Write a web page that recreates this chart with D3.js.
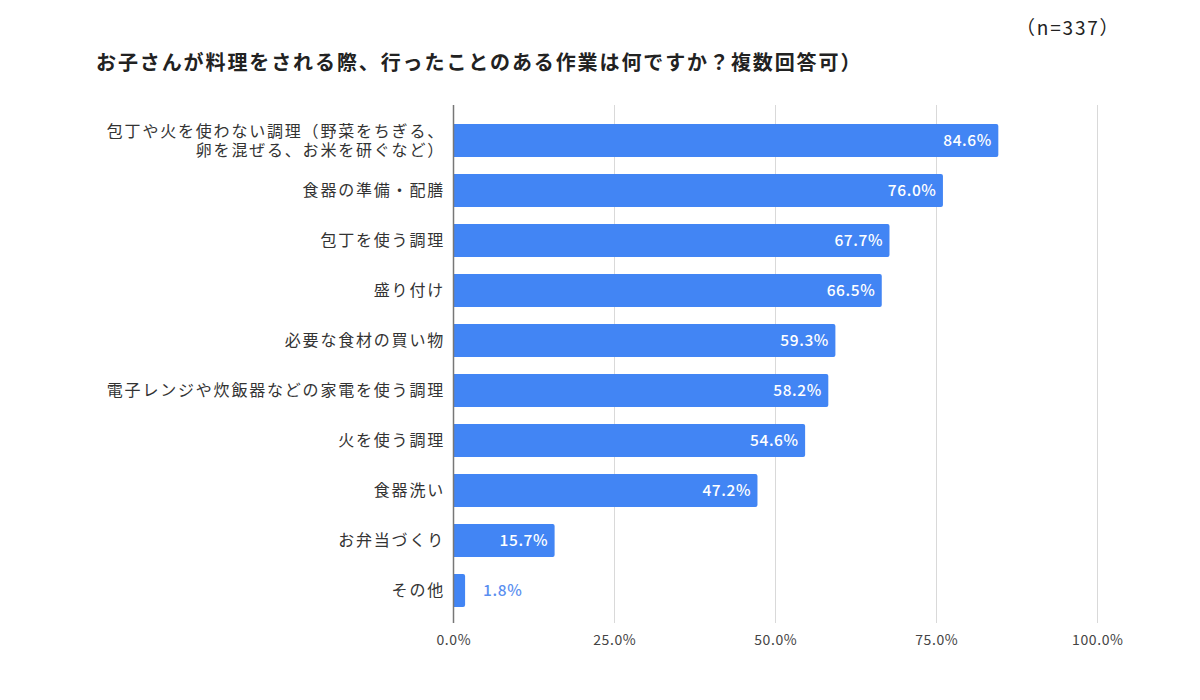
<!DOCTYPE html>
<html>
<head>
<meta charset="utf-8">
<script src="https://cdn.jsdelivr.net/npm/d3@7"></script>
<style>
  body { margin: 0; background: #fff; }
  text { font-family: "Noto Sans CJK JP", "Noto Sans", sans-serif; }
</style>
</head>
<body>
<div class="container"></div>
<script>
// data
var categories = [
  ["包丁や火を使わない調理（野菜をちぎる、", "卵を混ぜる、お米を研ぐなど）"],
  ["食器の準備・配膳"],
  ["包丁を使う調理"],
  ["盛り付け"],
  ["必要な食材の買い物"],
  ["電子レンジや炊飯器などの家電を使う調理"],
  ["火を使う調理"],
  ["食器洗い"],
  ["お弁当づくり"],
  ["その他"]
];
var values = [84.6, 76.0, 67.7, 66.5, 59.3, 58.2, 54.6, 47.2, 15.7, 1.8];
var ticks = [0, 25, 50, 75, 100];
var title = "お子さんが料理をされる際、行ったことのある作業は何ですか？複数回答可）";
var note = "（n=337）";

var width = 1200, height = 700;
var barColor = "#4285f4";

var svg = d3.select(".container").append("svg")
  .attr("width", width)
  .attr("height", height);

var x = d3.scaleLinear().domain([0, 100]).range([453.5, 1097.5]);
var y = d3.scaleBand()
  .domain(d3.range(categories.length))
  .range([115.5, 615.5])
  .paddingInner(0.34)
  .paddingOuter(0.17);

// title + n
svg.append("text")
  .attr("x", 96).attr("y", 70)
  .attr("font-size", 20).attr("font-weight", "bold").attr("fill", "#222")
  .attr("letter-spacing", 1.9)
  .text(title);
svg.append("text")
  .attr("x", 1016).attr("y", 35)
  .attr("font-size", 19).attr("fill", "#222")
  .attr("letter-spacing", 1.8)
  .text(note);

// grid
svg.selectAll(".grid")
  .data(ticks.slice(1)).enter()
  .append("line")
  .attr("x1", function(d) { return x(d); })
  .attr("x2", function(d) { return x(d); })
  .attr("y1", 105).attr("y2", 623)
  .attr("stroke", "#d9d9d9").attr("stroke-width", 1);

// x tick labels
svg.selectAll(".tick-label")
  .data(ticks).enter()
  .append("text")
  .attr("x", function(d) { return x(d) + 0.3; })
  .attr("y", 645)
  .attr("text-anchor", "middle")
  .attr("font-size", 14).attr("fill", "#444")
  .attr("letter-spacing", 0.6)
  .text(function(d) { return d.toFixed(1) + "%"; });

// bars (square left, slightly rounded right)
svg.selectAll(".bar")
  .data(values).enter()
  .append("path")
  .attr("fill", barColor)
  .attr("d", function(d, i) {
    var x0 = x(0), x1 = x(d), y0 = y(i), h = y.bandwidth(), r = 2;
    return "M" + x0 + "," + y0 +
      "H" + (x1 - r) + "Q" + x1 + "," + y0 + " " + x1 + "," + (y0 + r) +
      "V" + (y0 + h - r) + "Q" + x1 + "," + (y0 + h) + " " + (x1 - r) + "," + (y0 + h) +
      "H" + x0 + "Z";
  });

// axis line at 0
svg.append("line")
  .attr("x1", x(0)).attr("x2", x(0))
  .attr("y1", 105).attr("y2", 623)
  .attr("stroke", "#777").attr("stroke-width", 1.5);

// value labels
function inside(d) { return x(d) > x(0) + 60; }
svg.selectAll(".val")
  .data(values).enter()
  .append("text")
  .attr("x", function(d) { return inside(d) ? x(d) - 7 + 0.6 : x(d) + 18; })
  .attr("y", function(d, i) { return y(i) + y.bandwidth() / 2 + 5.5; })
  .attr("text-anchor", function(d) { return inside(d) ? "end" : "start"; })
  .attr("font-size", 15.5).attr("font-weight", 500)
  .attr("letter-spacing", 0.6)
  .attr("fill", function(d) { return inside(d) ? "#fff" : "#5b8ff0"; })
  .text(function(d) { return d.toFixed(1) + "%"; });

// category labels (one text per line)
var lineGap = 19;
categories.forEach(function(lines, i) {
  var cy = y(i) + y.bandwidth() / 2 + 5.5 - (lines.length - 1) * lineGap / 2;
  svg.selectAll(null)
    .data(lines).enter()
    .append("text")
    .attr("x", 445)
    .attr("y", function(d, j) { return cy + j * lineGap; })
    .attr("text-anchor", "end")
    .attr("font-size", 16).attr("fill", "#333")
    .attr("letter-spacing", 1.8)
    .text(function(d) { return d; });
});
</script>
</body>
</html>
